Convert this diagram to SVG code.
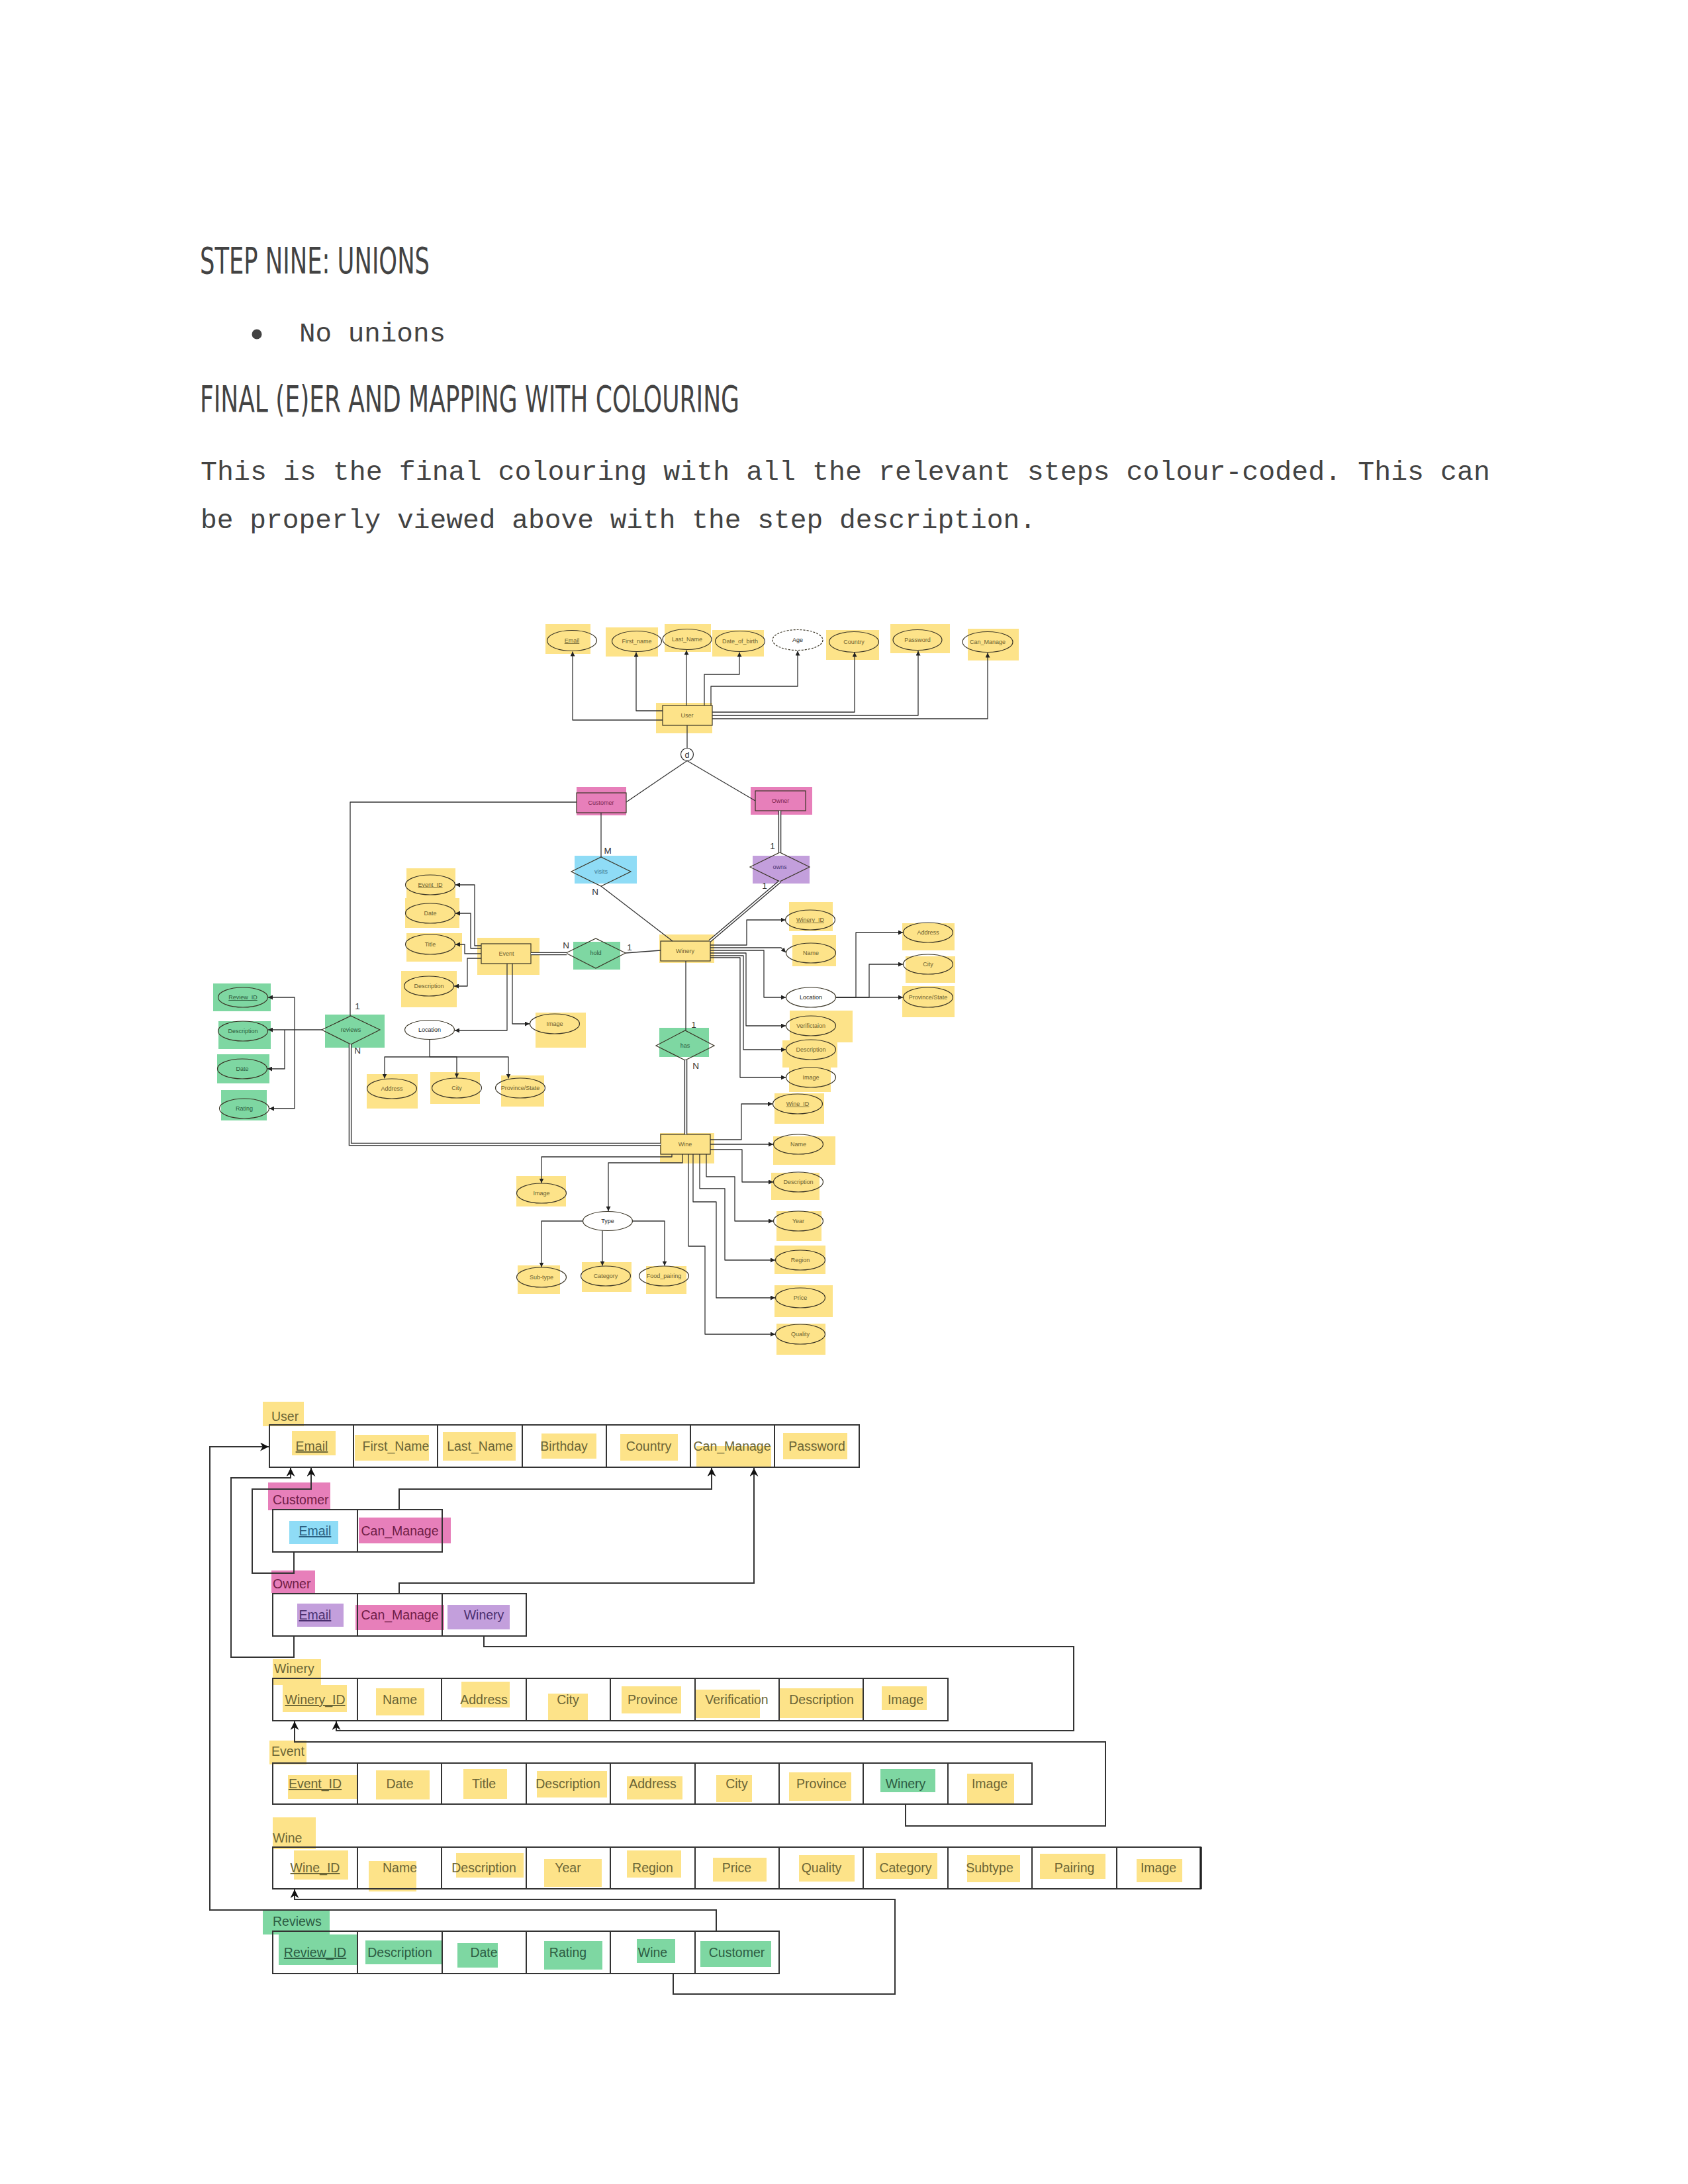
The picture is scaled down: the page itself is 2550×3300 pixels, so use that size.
<svg xmlns="http://www.w3.org/2000/svg" width="2550" height="3300" viewBox="0 0 2550 3300">
<defs>
<style>
.hy{fill:#fde389}.hg{fill:#7ed7a2}.hp{fill:#e77fba}.hb{fill:#8fdcf6}.hv{fill:#c39fdc}
.at{fill:none;stroke:#3a3526;stroke-width:1.2}
.atd{fill:none;stroke:#3a3526;stroke-width:1.2;stroke-dasharray:3 2}
.en{fill:none;stroke:#3a3526;stroke-width:1.2}
.et{font-family:"Liberation Sans",Arial,sans-serif;font-size:9px;text-anchor:middle;fill:#6b6030}
.ew{fill:#222}.eg{fill:#2c5a3c}.ep{fill:#7a1f4a}.eb{fill:#3a7590}.ev{fill:#4c3470}
.u{text-decoration:underline}
.card{font-family:"Liberation Sans",Arial,sans-serif;font-size:13.5px;fill:#333;text-anchor:middle}
.c{fill:none;stroke:#333;stroke-width:1.3;stroke-linejoin:round}
.ca{fill:none;stroke:#333;stroke-width:1.3;stroke-linejoin:round;marker-end:url(#ah)}
.dbo{fill:none;stroke:#333;stroke-width:4.6}
.dbi{fill:none;stroke:#fff;stroke-width:1.8}
.cell{fill:none;stroke:#333;stroke-width:2}
.rt{font-family:"Liberation Sans",Arial,sans-serif;font-size:19.5px;text-anchor:middle;fill:#6b6536}
.rl{font-family:"Liberation Sans",Arial,sans-serif;font-size:19.5px;fill:#6b6536}
.rg{fill:#2d5c42}.rp{fill:#6e1c45}.rb{fill:#2a5f80}.rv{fill:#4a2f6e}
.rc{fill:none;stroke:#333;stroke-width:2;stroke-linejoin:miter}
.rca{fill:none;stroke:#333;stroke-width:2;marker-end:url(#rah)}
.hd{font-family:"Liberation Sans Narrow","DejaVu Sans Condensed","Liberation Sans",sans-serif;font-size:56px;fill:#434343}
.mono{font-family:"Liberation Mono","DejaVu Sans Mono",monospace;font-size:41.5px;fill:#434343}
</style>
<marker id="ah" viewBox="0 0 10 10" refX="10" refY="5" markerWidth="7" markerHeight="7" markerUnits="userSpaceOnUse" orient="auto"><path d="M0,0 L10,5 L0,10 z" fill="#222"/></marker>
<marker id="rah" viewBox="0 0 10 10" refX="10" refY="5" markerWidth="14" markerHeight="13" markerUnits="userSpaceOnUse" orient="auto"><path d="M0,0 L10,5 L0,10 L3,5 z" fill="#111"/></marker>
</defs>
<rect width="2550" height="3300" fill="#fff"/>

<!-- Document text -->
<g id="doc-text">
<text class="hd" x="302" y="413" textLength="347" lengthAdjust="spacingAndGlyphs">STEP NINE: UNIONS</text>
<circle cx="388" cy="505" r="7.5" fill="#434343"/>
<text class="mono" x="452" y="516" textLength="221" lengthAdjust="spacingAndGlyphs">No unions</text>
<text class="hd" x="302" y="622" textLength="815" lengthAdjust="spacingAndGlyphs">FINAL (E)ER AND MAPPING WITH COLOURING</text>
<text class="mono" x="303" y="725" textLength="1948" lengthAdjust="spacingAndGlyphs">This is the final colouring with all the relevant steps colour-coded. This can</text>
<text class="mono" x="303" y="798" textLength="1262" lengthAdjust="spacingAndGlyphs">be properly viewed above with the step description.</text>
</g>

<!-- ER highlights (behind) and nodes -->
<g id="er-user-attrs">
<g id="er-email"><rect class="hy" x="824" y="943" width="68" height="45"/><ellipse class="at" cx="864" cy="968" rx="37.5" ry="15.5"/><text class="et u" x="864" y="971">Email</text></g>
<g id="er-firstname"><rect class="hy" x="915" y="948" width="79" height="44"/><ellipse class="at" cx="962" cy="969" rx="37.5" ry="15.5"/><text class="et" x="962" y="972">First_name</text></g>
<g id="er-lastname"><rect class="hy" x="1004" y="943" width="70" height="42"/><ellipse class="at" cx="1038" cy="966" rx="37" ry="15.5"/><text class="et" x="1038" y="969">Last_Name</text></g>
<g id="er-dob"><rect class="hy" x="1076" y="952" width="78" height="40"/><ellipse class="at" cx="1118" cy="969" rx="37.5" ry="15.5"/><text class="et" x="1118" y="972">Date_of_birth</text></g>
<g id="er-age"><ellipse class="atd" cx="1205" cy="967" rx="38" ry="15.5"/><text class="et ew" x="1205" y="970">Age</text></g>
<g id="er-country"><rect class="hy" x="1248" y="952" width="80" height="45"/><ellipse class="at" cx="1290" cy="970" rx="37.5" ry="15.5"/><text class="et" x="1290" y="973">Country</text></g>
<g id="er-password"><rect class="hy" x="1345" y="943" width="90" height="44"/><ellipse class="at" cx="1386" cy="967" rx="37" ry="15.5"/><text class="et" x="1386" y="970">Password</text></g>
<g id="er-canmanage"><rect class="hy" x="1462" y="950" width="77" height="48"/><ellipse class="at" cx="1492" cy="970" rx="38" ry="15.5"/><text class="et" x="1492" y="973">Can_Manage</text></g>
</g>

<g id="er-user"><rect class="hy" x="991" y="1062" width="85" height="46"/><rect class="en" x="1001" y="1066" width="75" height="30"/><text class="et" x="1038" y="1084">User</text></g>
<g id="er-d"><circle cx="1038" cy="1140" r="9.5" fill="#fff" stroke="#333" stroke-width="1.2"/><text class="card" x="1038" y="1145" style="font-size:12.5px">d</text></g>
<g id="er-customer"><rect class="hp" x="871" y="1189" width="75" height="43"/><rect class="en" x="871" y="1198" width="75" height="30"/><text class="et ep" x="908" y="1216">Customer</text></g>
<g id="er-owner"><rect class="hp" x="1134" y="1189" width="93" height="42"/><rect class="en" x="1141" y="1195" width="76" height="30"/><text class="et ep" x="1179" y="1213">Owner</text></g>
<g id="er-visits"><rect class="hb" x="868" y="1293" width="94" height="42"/><polygon class="en" points="863,1317 908,1295 953,1317 908,1339"/><text class="et eb" x="908" y="1320">visits</text></g>
<g id="er-owns"><rect class="hv" x="1137" y="1293" width="86" height="42"/><polygon class="en" points="1133,1310 1178,1288 1223,1310 1178,1332"/><text class="et ev" x="1178" y="1313">owns</text></g>
<g id="er-winery"><rect class="hy" x="996" y="1412" width="83" height="43"/><rect class="en" x="998" y="1422" width="75" height="30"/><text class="et" x="1035" y="1440">Winery</text></g>
<g id="er-hold"><rect class="hg" x="866" y="1423" width="71" height="42"/><polygon class="en" points="855,1440 900,1418 945,1440 900,1463"/><text class="et eg" x="900" y="1443">hold</text></g>
<g id="er-has"><rect class="hg" x="996" y="1553" width="75" height="44"/><polygon class="en" points="991,1580 1035,1557 1079,1580 1035,1602"/><text class="et eg" x="1035" y="1583">has</text></g>
<g id="er-event"><rect class="hy" x="721" y="1417" width="94" height="56"/><rect class="en" x="727" y="1426" width="75" height="30"/><text class="et" x="765" y="1444">Event</text></g>
<g id="er-reviews"><rect class="hg" x="491" y="1533" width="90" height="50"/><polygon class="en" points="486,1556 530,1535 574,1556 530,1578"/><text class="et eg" x="530" y="1559">reviews</text></g>
<g id="er-wine"><rect class="hy" x="997" y="1712" width="82" height="46"/><rect class="en" x="998" y="1714" width="75" height="30"/><text class="et" x="1035" y="1732">Wine</text></g>

<g id="er-winery-attrs">
<g id="er-winery-id"><rect class="hy" x="1192" y="1363" width="66" height="44"/><ellipse class="at" cx="1224" cy="1390" rx="37.5" ry="15"/><text class="et u" x="1224" y="1393">Winery_ID</text></g>
<g id="er-winery-name"><rect class="hy" x="1197" y="1413" width="66" height="47"/><ellipse class="at" cx="1225" cy="1440" rx="37.5" ry="15"/><text class="et" x="1225" y="1443">Name</text></g>
<g id="er-winery-location"><ellipse class="at" cx="1225" cy="1507" rx="37.5" ry="15" fill="#fff"/><text class="et ew" x="1225" y="1510">Location</text></g>
<g id="er-winery-verif"><rect class="hy" x="1193" y="1527" width="95" height="48"/><ellipse class="at" cx="1225" cy="1550" rx="37.5" ry="15"/><text class="et" x="1225" y="1553">Verifictaion</text></g>
<g id="er-winery-desc"><rect class="hy" x="1182" y="1572" width="83" height="41"/><ellipse class="at" cx="1225" cy="1586" rx="37.5" ry="15"/><text class="et" x="1225" y="1589">Description</text></g>
<g id="er-winery-image"><rect class="hy" x="1192" y="1607" width="63" height="43"/><ellipse class="at" cx="1225" cy="1628" rx="37.5" ry="15"/><text class="et" x="1225" y="1631">Image</text></g>
<g id="er-winery-address"><rect class="hy" x="1363" y="1395" width="79" height="41"/><ellipse class="at" cx="1402" cy="1409" rx="37.5" ry="15"/><text class="et" x="1402" y="1412">Address</text></g>
<g id="er-winery-city"><rect class="hy" x="1368" y="1445" width="75" height="40"/><ellipse class="at" cx="1402" cy="1457" rx="37.5" ry="15"/><text class="et" x="1402" y="1460">City</text></g>
<g id="er-winery-prov"><rect class="hy" x="1363" y="1490" width="79" height="47"/><ellipse class="at" cx="1402" cy="1507" rx="37.5" ry="15"/><text class="et" x="1402" y="1510">Province/State</text></g>
</g>

<g id="er-event-attrs">
<g id="er-event-id"><rect class="hy" x="614" y="1312" width="74" height="45"/><ellipse class="at" cx="650" cy="1337" rx="37.5" ry="15"/><text class="et u" x="650" y="1340">Event_ID</text></g>
<g id="er-event-date"><rect class="hy" x="612" y="1357" width="82" height="45"/><ellipse class="at" cx="650" cy="1380" rx="37.5" ry="15"/><text class="et" x="650" y="1383">Date</text></g>
<g id="er-event-title"><rect class="hy" x="614" y="1410" width="84" height="43"/><ellipse class="at" cx="650" cy="1427" rx="37.5" ry="15"/><text class="et" x="650" y="1430">Title</text></g>
<g id="er-event-desc"><rect class="hy" x="606" y="1467" width="84" height="55"/><ellipse class="at" cx="648" cy="1490" rx="37.5" ry="15"/><text class="et" x="648" y="1493">Description</text></g>
<g id="er-event-image"><rect class="hy" x="809" y="1530" width="76" height="53"/><ellipse class="at" cx="838" cy="1547" rx="37.5" ry="15"/><text class="et" x="838" y="1550">Image</text></g>
<g id="er-event-location"><ellipse class="at" cx="649" cy="1556" rx="37.5" ry="14.5" fill="#fff"/><text class="et ew" x="649" y="1559">Location</text></g>
<g id="er-event-address"><rect class="hy" x="554" y="1623" width="77" height="52"/><ellipse class="at" cx="592" cy="1645" rx="37.5" ry="15"/><text class="et" x="592" y="1648">Address</text></g>
<g id="er-event-city"><rect class="hy" x="650" y="1620" width="75" height="48"/><ellipse class="at" cx="690" cy="1644" rx="37.5" ry="15"/><text class="et" x="690" y="1647">City</text></g>
<g id="er-event-prov"><rect class="hy" x="757" y="1625" width="65" height="47"/><ellipse class="at" cx="786" cy="1644" rx="37.5" ry="15"/><text class="et" x="786" y="1647">Province/State</text></g>
</g>

<g id="er-review-attrs">
<g id="er-review-id"><rect class="hg" x="322" y="1486" width="87" height="42"/><ellipse class="at" cx="367" cy="1507" rx="37.5" ry="15"/><text class="et eg u" x="367" y="1510">Review_ID</text></g>
<g id="er-review-desc"><rect class="hg" x="330" y="1543" width="79" height="42"/><ellipse class="at" cx="367" cy="1558" rx="37.5" ry="15"/><text class="et eg" x="367" y="1561">Description</text></g>
<g id="er-review-date"><rect class="hg" x="328" y="1593" width="79" height="44"/><ellipse class="at" cx="366" cy="1615" rx="37.5" ry="15"/><text class="et eg" x="366" y="1618">Date</text></g>
<g id="er-review-rating"><rect class="hg" x="334" y="1647" width="69" height="46"/><ellipse class="at" cx="369" cy="1675" rx="37.5" ry="15"/><text class="et eg" x="369" y="1678">Rating</text></g>
</g>

<g id="er-wine-attrs">
<g id="er-wine-id"><rect class="hy" x="1170" y="1652" width="75" height="46"/><ellipse class="at" cx="1205" cy="1668" rx="37.5" ry="15"/><text class="et u" x="1205" y="1671">Wine_ID</text></g>
<g id="er-wine-name"><rect class="hy" x="1168" y="1717" width="94" height="43"/><ellipse class="at" cx="1206" cy="1729" rx="37.5" ry="15"/><text class="et" x="1206" y="1732">Name</text></g>
<g id="er-wine-desc"><rect class="hy" x="1165" y="1772" width="73" height="41"/><ellipse class="at" cx="1206" cy="1786" rx="37.5" ry="15"/><text class="et" x="1206" y="1789">Description</text></g>
<g id="er-wine-year"><rect class="hy" x="1173" y="1830" width="68" height="45"/><ellipse class="at" cx="1206" cy="1845" rx="37.5" ry="15"/><text class="et" x="1206" y="1848">Year</text></g>
<g id="er-wine-region"><rect class="hy" x="1170" y="1882" width="77" height="43"/><ellipse class="at" cx="1209" cy="1904" rx="37.5" ry="15"/><text class="et" x="1209" y="1907">Region</text></g>
<g id="er-wine-price"><rect class="hy" x="1170" y="1942" width="88" height="48"/><ellipse class="at" cx="1209" cy="1961" rx="37.5" ry="15"/><text class="et" x="1209" y="1964">Price</text></g>
<g id="er-wine-quality"><rect class="hy" x="1173" y="2000" width="74" height="47"/><ellipse class="at" cx="1209" cy="2016" rx="37.5" ry="15"/><text class="et" x="1209" y="2019">Quality</text></g>
<g id="er-wine-image"><rect class="hy" x="780" y="1777" width="75" height="46"/><ellipse class="at" cx="818" cy="1803" rx="37.5" ry="15"/><text class="et" x="818" y="1806">Image</text></g>
<g id="er-wine-type"><ellipse class="at" cx="918" cy="1845" rx="37.5" ry="14.5" fill="#fff"/><text class="et ew" x="918" y="1848">Type</text></g>
<g id="er-wine-subtype"><rect class="hy" x="782" y="1912" width="64" height="43"/><ellipse class="at" cx="818" cy="1930" rx="37.5" ry="15"/><text class="et" x="818" y="1933">Sub-type</text></g>
<g id="er-wine-category"><rect class="hy" x="879" y="1907" width="75" height="45"/><ellipse class="at" cx="915" cy="1928" rx="37.5" ry="15"/><text class="et" x="915" y="1931">Category</text></g>
<g id="er-wine-food"><rect class="hy" x="976" y="1913" width="61" height="42"/><ellipse class="at" cx="1003" cy="1928" rx="37.5" ry="15"/><text class="et" x="1003" y="1931">Food_pairing</text></g>
</g>

<g id="er-connectors">
<path class="ca" d="M1001 1088 H865 V984.5"/>
<path class="ca" d="M1001 1074 H961 V985.5"/>
<path class="ca" d="M1037 1066 V982.5"/>
<path class="ca" d="M1064 1066 V1019 H1117 V985.5"/>
<path class="ca" d="M1074 1066 V1037 H1205 V983.5"/>
<path class="ca" d="M1076 1076 H1291 V985.5"/>
<path class="ca" d="M1076 1081 H1387 V983.5"/>
<path class="ca" d="M1076 1086 H1492 V986.5"/>
<path class="c" d="M1038 1096 V1130.5"/>
<path class="c" d="M1038 1149.5 L946 1212"/>
<path class="c" d="M1038 1149.5 L1141 1210"/>
<path class="c" d="M871 1212 H529 V1535"/>
<path class="c" d="M908 1228 V1295"/>
<path class="c" d="M908 1339 L1016 1422"/>
<path class="c" d="M945 1440 L998 1436"/>
<path class="c" d="M1036 1452 V1557"/>
<g id="double-lines">
<path class="dbo" d="M1178 1225 V1288"/><path class="dbo" d="M1178 1332 L1072 1422"/><path class="dbo" d="M802 1441 H856"/><path class="dbo" d="M1036 1602 V1714"/><path class="dbo" d="M529 1578 V1729 H998"/>
<path class="dbi" d="M1178 1225 V1288"/><path class="dbi" d="M1178 1332 L1072 1422"/><path class="dbi" d="M802 1441 H856"/><path class="dbi" d="M1036 1602 V1714"/><path class="dbi" d="M529 1578 V1729 H998"/>
</g>
<path class="ca" d="M1073 1428 H1128 V1390 H1186.5"/>
<path class="ca" d="M1073 1432 H1180 L1187 1439"/>
<path class="ca" d="M1073 1436 H1154 V1507 H1187"/>
<path class="ca" d="M1073 1440 H1127 V1550 H1187"/>
<path class="ca" d="M1073 1444 H1123 V1586 H1187"/>
<path class="ca" d="M1073 1447 H1118 V1628 H1187"/>
<path class="ca" d="M1263 1507 H1293 V1409 H1364"/>
<path class="ca" d="M1263 1507 H1313 V1457 H1364"/>
<path class="ca" d="M1263 1507 H1364"/>
<path class="ca" d="M727 1429 H717 V1337 H688"/>
<path class="ca" d="M727 1433 H711 V1380 H688"/>
<path class="ca" d="M727 1441 H702 V1427 H688"/>
<path class="ca" d="M727 1448 H706 V1490 H686"/>
<path class="ca" d="M774 1456 V1547 H800"/>
<path class="ca" d="M766 1456 V1557 H687"/>
<path class="c" d="M649 1570.5 V1597"/>
<path class="ca" d="M649 1597 H581 V1629.5"/>
<path class="ca" d="M649 1597 H690 V1628.5"/>
<path class="ca" d="M649 1597 H768 V1629.5"/>
<path class="ca" d="M486 1556 H405"/>
<path class="ca" d="M445 1556 V1507 H405"/>
<path class="ca" d="M430 1556 V1615 H404"/>
<path class="ca" d="M445 1556 V1675 H407"/>
<path class="ca" d="M1073 1722 H1120 V1668 H1167"/>
<path class="ca" d="M1073 1729 H1168"/>
<path class="ca" d="M1073 1737 H1121 V1786 H1168"/>
<path class="ca" d="M1067 1744 V1778 H1110 V1845 H1168"/>
<path class="ca" d="M1057 1744 V1796 H1095 V1904 H1171"/>
<path class="ca" d="M1047 1744 V1816 H1082 V1961 H1171"/>
<path class="ca" d="M1040 1744 V1883 H1065 V2016 H1171"/>
<path class="ca" d="M1015 1744 V1748 H818 V1787.5"/>
<path class="ca" d="M1031 1744 V1757 H919 V1830"/>
<path class="ca" d="M880.5 1845 H818 V1914.5"/>
<path class="ca" d="M910 1859.5 V1912.5"/>
<path class="ca" d="M955.5 1845 H1004 V1912.5"/>
<g id="cardinalities">
<text class="card" x="918" y="1290">M</text>
<text class="card" x="899" y="1352">N</text>
<text class="card" x="1167" y="1283">1</text>
<text class="card" x="1155" y="1343">1</text>
<text class="card" x="855" y="1433">N</text>
<text class="card" x="951" y="1436">1</text>
<text class="card" x="1048" y="1553">1</text>
<text class="card" x="1051" y="1615">N</text>
<text class="card" x="540" y="1525">1</text>
<text class="card" x="540" y="1592">N</text>
</g>
</g>

<!-- Relational mapping -->
<g id="rel-user">
<rect class="hy" x="397" y="2118" width="62" height="37"/><text class="rl" x="410" y="2147">User</text>
<rect class="hy" x="441" y="2162" width="66" height="37"/><rect class="hy" x="536" y="2168" width="112" height="39"/><rect class="hy" x="669" y="2164" width="110" height="43"/><rect class="hy" x="818" y="2166" width="83" height="38"/><rect class="hy" x="937" y="2167" width="87" height="40"/><rect class="hy" x="1052" y="2185" width="113" height="32"/><rect class="hy" x="1183" y="2165" width="97" height="40"/>
<rect class="cell" x="407" y="2153" width="891" height="64"/>
<path class="cell" d="M534 2153 V2217 M661 2153 V2217 M789 2153 V2217 M916 2153 V2217 M1043 2153 V2217 M1170 2153 V2217"/>
<text class="rt u" x="471" y="2192">Email</text><text class="rt" x="598" y="2192">First_Name</text><text class="rt" x="725" y="2192">Last_Name</text><text class="rt" x="852" y="2192">Birthday</text><text class="rt" x="980" y="2192">Country</text><text class="rt" x="1106" y="2192">Can_Manage</text><text class="rt" x="1234" y="2192">Password</text>
</g>
<g id="rel-customer">
<rect class="hp" x="405" y="2240" width="94" height="42"/><text class="rl rp" x="412" y="2273">Customer</text>
<rect class="hb" x="437" y="2298" width="74" height="35"/><rect class="hp" x="542" y="2293" width="139" height="39"/>
<rect class="cell" x="412" y="2281" width="256" height="64"/><path class="cell" d="M540 2281 V2345"/>
<text class="rt rb u" x="476" y="2320">Email</text><text class="rt rp" x="604" y="2320">Can_Manage</text>
</g>
<g id="rel-owner">
<rect class="hp" x="410" y="2373" width="66" height="34"/><text class="rl rp" x="412" y="2400">Owner</text>
<rect class="hv" x="449" y="2423" width="70" height="35"/><rect class="hp" x="537" y="2425" width="134" height="38"/><rect class="hv" x="676" y="2425" width="94" height="37"/>
<rect class="cell" x="412" y="2408" width="383" height="64"/><path class="cell" d="M540 2408 V2472 M668 2408 V2472"/>
<text class="rt rv u" x="476" y="2447">Email</text><text class="rt rp" x="604" y="2447">Can_Manage</text><text class="rt rv" x="731" y="2447">Winery</text>
</g>
<g id="rel-winery">
<rect class="hy" x="412" y="2507" width="73" height="39"/><text class="rl" x="414" y="2528">Winery</text>
<rect class="hy" x="427" y="2546" width="97" height="41"/><rect class="hy" x="568" y="2551" width="73" height="41"/><rect class="hy" x="697" y="2541" width="73" height="39"/><rect class="hy" x="828" y="2559" width="60" height="41"/><rect class="hy" x="939" y="2548" width="90" height="41"/><rect class="hy" x="1050" y="2553" width="98" height="43"/><rect class="hy" x="1177" y="2551" width="126" height="45"/><rect class="hy" x="1332" y="2548" width="68" height="36"/>
<rect class="cell" x="412" y="2536" width="1020" height="64"/>
<path class="cell" d="M540 2536 V2600 M667 2536 V2600 M795 2536 V2600 M922 2536 V2600 M1050 2536 V2600 M1177 2536 V2600 M1304 2536 V2600"/>
<text class="rt u" x="476" y="2575">Winery_ID</text><text class="rt" x="604" y="2575">Name</text><text class="rt" x="731" y="2575">Address</text><text class="rt" x="858" y="2575">City</text><text class="rt" x="986" y="2575">Province</text><text class="rt" x="1113" y="2575">Verification</text><text class="rt" x="1241" y="2575">Description</text><text class="rt" x="1368" y="2575">Image</text>
</g>
<g id="rel-event">
<rect class="hy" x="407" y="2630" width="56" height="36"/><text class="rl" x="410" y="2653">Event</text>
<rect class="hy" x="435" y="2682" width="105" height="36"/><rect class="hy" x="568" y="2675" width="81" height="44"/><rect class="hy" x="700" y="2673" width="66" height="45"/><rect class="hy" x="811" y="2676" width="106" height="40"/><rect class="hy" x="947" y="2684" width="84" height="35"/><rect class="hy" x="1082" y="2682" width="54" height="41"/><rect class="hy" x="1192" y="2678" width="94" height="43"/><rect class="hg" x="1330" y="2673" width="83" height="35"/><rect class="hy" x="1461" y="2680" width="71" height="46"/>
<rect class="cell" x="412" y="2664" width="1147" height="62"/>
<path class="cell" d="M540 2664 V2726 M667 2664 V2726 M795 2664 V2726 M922 2664 V2726 M1050 2664 V2726 M1177 2664 V2726 M1304 2664 V2726 M1432 2664 V2726"/>
<text class="rt u" x="476" y="2702">Event_ID</text><text class="rt" x="604" y="2702">Date</text><text class="rt" x="731" y="2702">Title</text><text class="rt" x="858" y="2702">Description</text><text class="rt" x="986" y="2702">Address</text><text class="rt" x="1113" y="2702">City</text><text class="rt" x="1241" y="2702">Province</text><text class="rt rg" x="1368" y="2702">Winery</text><text class="rt" x="1495" y="2702">Image</text>
</g>
<g id="rel-wine">
<rect class="hy" x="412" y="2746" width="65" height="48"/><text class="rl" x="412" y="2784">Wine</text>
<rect class="hy" x="444" y="2796" width="82" height="44"/><rect class="hy" x="557" y="2812" width="72" height="46"/><rect class="hy" x="689" y="2800" width="102" height="37"/><rect class="hy" x="822" y="2809" width="87" height="42"/><rect class="hy" x="947" y="2796" width="82" height="41"/><rect class="hy" x="1077" y="2807" width="81" height="36"/><rect class="hy" x="1207" y="2803" width="84" height="40"/><rect class="hy" x="1323" y="2800" width="93" height="39"/><rect class="hy" x="1461" y="2803" width="80" height="41"/><rect class="hy" x="1571" y="2801" width="99" height="38"/><rect class="hy" x="1717" y="2809" width="69" height="35"/>
<rect class="cell" x="412" y="2791" width="1402" height="63"/>
<path class="cell" d="M540 2791 V2854 M667 2791 V2854 M795 2791 V2854 M922 2791 V2854 M1050 2791 V2854 M1177 2791 V2854 M1304 2791 V2854 M1432 2791 V2854 M1559 2791 V2854 M1687 2791 V2854"/>
<path d="M1814 2791 V2854" stroke="#222" stroke-width="3.5"/>
<text class="rt u" x="476" y="2829">Wine_ID</text><text class="rt" x="604" y="2829">Name</text><text class="rt" x="731" y="2829">Description</text><text class="rt" x="858" y="2829">Year</text><text class="rt" x="986" y="2829">Region</text><text class="rt" x="1113" y="2829">Price</text><text class="rt" x="1241" y="2829">Quality</text><text class="rt" x="1368" y="2829">Category</text><text class="rt" x="1495" y="2829">Subtype</text><text class="rt" x="1623" y="2829">Pairing</text><text class="rt" x="1750" y="2829">Image</text>
</g>
<g id="rel-reviews">
<rect class="hg" x="397" y="2885" width="101" height="38"/><text class="rl rg" x="412" y="2910">Reviews</text>
<rect class="hg" x="421" y="2923" width="118" height="46"/><rect class="hg" x="552" y="2932" width="116" height="36"/><rect class="hg" x="691" y="2936" width="61" height="37"/><rect class="hg" x="822" y="2933" width="88" height="43"/><rect class="hg" x="962" y="2930" width="58" height="36"/><rect class="hg" x="1058" y="2933" width="107" height="39"/>
<rect class="cell" x="412" y="2918" width="765" height="64"/>
<path class="cell" d="M540 2918 V2982 M668 2918 V2982 M795 2918 V2982 M922 2918 V2982 M1050 2918 V2982"/>
<text class="rt rg u" x="476" y="2957">Review_ID</text><text class="rt rg" x="604" y="2957">Description</text><text class="rt rg" x="731" y="2957">Date</text><text class="rt rg" x="858" y="2957">Rating</text><text class="rt rg" x="986" y="2957">Wine</text><text class="rt rg" x="1113" y="2957">Customer</text>
</g>

<g id="rel-connectors">
<path class="rca" d="M1082 2918 V2886 H317 V2186 H406"/>
<path class="rca" d="M444 2345 V2377 H381 V2250 H470 V2218"/>
<path class="rca" d="M444 2472 V2504 H349 V2233 H439 V2218"/>
<path class="rca" d="M603 2281 V2250 H1075 V2218"/>
<path class="rca" d="M603 2408 V2392 H1139 V2218"/>
<path class="rca" d="M731 2472 V2488 H1622 V2615 H508 V2601"/>
<path class="rca" d="M1368 2726 V2759 H1670 V2632 H445 V2601"/>
<path class="rca" d="M1017 2982 V3013 H1352 V2870 H445 V2855"/>
</g>
</svg>
